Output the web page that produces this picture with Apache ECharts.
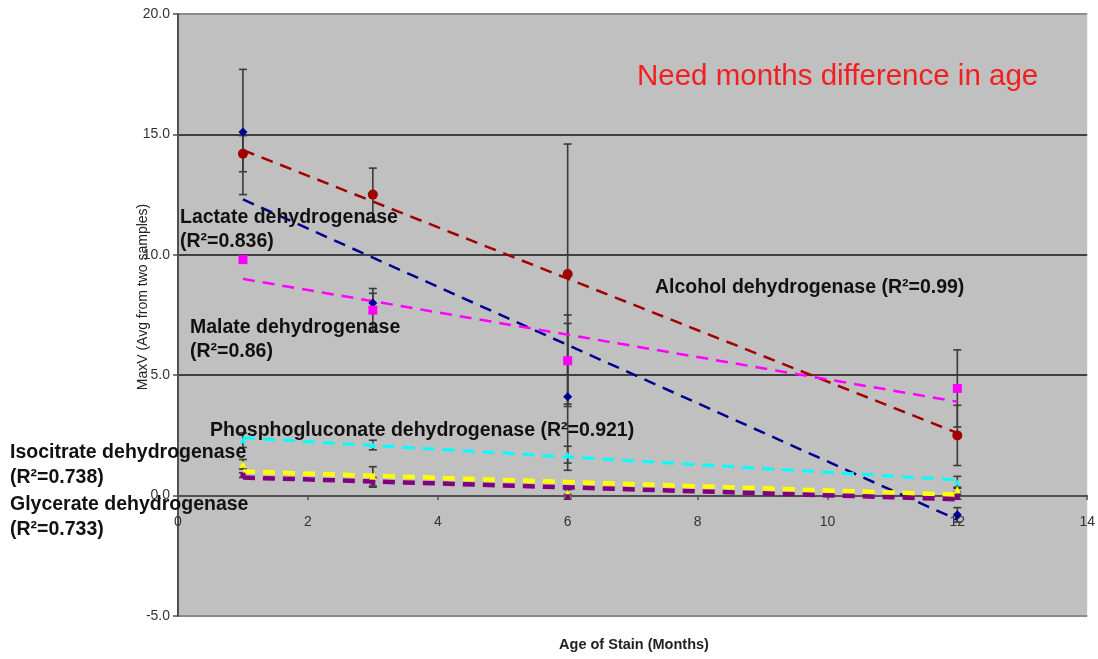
<!DOCTYPE html>
<html><head><meta charset="utf-8">
<script src="https://cdn.jsdelivr.net/npm/echarts@6/dist/echarts.min.js"></script>
<style>html,body{margin:0;padding:0;background:#fff}#c{width:1098px;height:659px}</style>
</head><body><div id="c"></div>
<script>
// Data
const months = [1, 3, 6, 12];
const alcohol = [14.2, 12.5, 9.2, 2.5];
const alcoholErr = [0.75, 1.1, 5.4, 1.25];
const lactate = [15.1, 8.0, 4.1, -0.8];
const lactateErr = [2.6, 0.4, 3.05, 0.3];
const malate = [9.8, 7.7, 5.6, 4.45];
const malateErr = [0.1, 0.9, 1.9, 1.6];
const phospho = [2.3, 2.1, 1.7, 0.55];
const phosphoErr = [0.3, 0.2, 0.35, 0.25];
const isocitrate = [1.3, 0.8, 0.1, 0.25];
const isocitrateErr = [0.2, 0.4, 0.15, 0.1];
const glycerate = [0.85, 0.55, -0.05, -0.05];
const glycerateErr = [0.1, 0.2, 0.1, 0.1];
// Trendline values at first and last month
const trendX = [1, 12];
const alcoholTrend = [14.35, 2.6];
const lactateTrend = [12.3, -1.0];
const malateTrend = [9.0, 3.9];
const phosphoTrend = [2.4, 0.65];
const isocitrateTrend = [1.0, 0.04];
const glycerateTrend = [0.75, -0.15];
const yTicks = [-5, 0, 5, 10, 15, 20];
const xTicks = [0, 2, 4, 6, 8, 10, 12, 14];

const C = {red:'#a00000', navy:'#000090', mag:'#ff00ff', cyan:'#00ffff', yel:'#ffff00', pur:'#800080'};

function errSeries(vals, errs) {
  return {
    type: 'custom', z: 3, silent: true,
    data: months.map((m, i) => [m, vals[i] - errs[i], vals[i] + errs[i]]),
    encode: {x: 0, y: [1, 2]},
    renderItem(params, api) {
      const x = api.value(0);
      const lo = api.coord([x, api.value(1)]);
      const hi = api.coord([x, api.value(2)]);
      const w = 4;
      const st = {stroke: '#3a3a3a', lineWidth: 1.6};
      return {type: 'group', children: [
        {type: 'line', shape: {x1: lo[0], y1: lo[1], x2: hi[0], y2: hi[1]}, style: st},
        {type: 'line', shape: {x1: lo[0] - w, y1: lo[1], x2: lo[0] + w, y2: lo[1]}, style: st},
        {type: 'line', shape: {x1: hi[0] - w, y1: hi[1], x2: hi[0] + w, y2: hi[1]}, style: st}
      ]};
    }
  };
}
function pts(vals, color, symbol, size) {
  return {type: 'scatter', z: 5, silent: true, symbol, symbolSize: size,
    itemStyle: {color, opacity: 1},
    data: months.map((m, i) => [m, vals[i]])};
}
function trend(vals, color, width) {
  return {type: 'line', z: 4, silent: true, symbol: 'none',
    lineStyle: {color, width, type: [12, 8]},
    data: trendX.map((m, i) => [m, vals[i]])};
}

const textFont = 'bold 19.5px "Liberation Sans", Arial, sans-serif';
function label(text, x, y) {
  return {type: 'text', z: 10, style: {text, x, y, font: textFont, fill: '#111', verticalAlign: 'middle'}};
}

const chart = echarts.init(document.getElementById('c'));
chart.setOption({
  animation: false,
  grid: {left: 178, top: 14, width: 912, height: 602, show: true, backgroundColor: '#c0c0c0', borderWidth: 0},
  xAxis: {
    type: 'value', min: xTicks[0], max: xTicks[xTicks.length - 1], interval: 2,
    offset: -120,
    axisLine: {show: true, onZero: false, lineStyle: {color: '#505050', width: 2}},
    axisTick: {show: true, length: 4, lineStyle: {color: '#505050', width: 1.5}},
    axisLabel: {margin: 19, color: '#333', fontSize: 14, fontFamily: '"Liberation Sans", Arial'},
    splitLine: {show: false}
  },
  yAxis: {
    type: 'value', min: yTicks[0], max: yTicks[yTicks.length - 1], interval: 5,
    axisLine: {show: true, onZero: false, lineStyle: {color: '#505050', width: 2}},
    axisTick: {show: true, length: 5, lineStyle: {color: '#505050', width: 1.5}},
    axisLabel: {margin: 8, color: '#333', fontSize: 14, fontFamily: '"Liberation Sans", Arial',
      formatter: v => v.toFixed(1)},
    splitLine: {show: true, lineStyle: {color: ['#8a8a8a', '#505050', '#404040', '#404040', '#404040', '#8a8a8a'], width: 2}}
  },
  series: [
    errSeries(alcohol, alcoholErr), errSeries(lactate, lactateErr), errSeries(malate, malateErr),
    errSeries(phospho, phosphoErr), errSeries(isocitrate, isocitrateErr), errSeries(glycerate, glycerateErr),
    trend(alcoholTrend, C.red, 2.5), trend(lactateTrend, C.navy, 2.5), trend(malateTrend, C.mag, 2.5),
    trend(phosphoTrend, C.cyan, 3), trend(isocitrateTrend, C.yel, 4.5), trend(glycerateTrend, C.pur, 4.5),
    pts(lactate, C.navy, 'diamond', 9), pts(malate, C.mag, 'rect', 9), pts(isocitrate, C.yel, 'triangle', 7),
    pts(phospho, C.cyan, 'triangle', 6), pts(glycerate, C.pur, 'rect', 5), pts(alcohol, C.red, 'circle', 10)
  ],
  graphic: [
    {type: 'text', z: 10, style: {text: 'Need months difference in age', x: 637, y: 77,
      font: '29.5px "Liberation Sans", Arial, sans-serif', fill: '#f02020', verticalAlign: 'middle'}},
    label('Lactate dehydrogenase', 180, 218), label('(R²=0.836)', 180, 242),
    label('Malate dehydrogenase', 190, 328), label('(R²=0.86)', 190, 352),
    label('Alcohol dehydrogenase (R²=0.99)', 655, 288),
    label('Phosphogluconate dehydrogenase (R²=0.921)', 210, 431),
    label('Isocitrate dehydrogenase', 10, 453), label('(R²=0.738)', 10, 478),
    label('Glycerate dehydrogenase', 10, 505), label('(R²=0.733)', 10, 530),
    {type: 'text', z: 10, style: {text: 'Age of Stain (Months)', x: 634, y: 645,
      font: 'bold 14.5px "Liberation Sans", Arial, sans-serif', fill: '#222', align: 'center', verticalAlign: 'middle'}},
    {type: 'text', z: 10, rotation: Math.PI / 2, x: 143, y: 297, style: {text: 'MaxV (Avg from two samples)', x: 0, y: 0,
      font: '14px "Liberation Sans", Arial, sans-serif', fill: '#222', align: 'center', verticalAlign: 'middle'}}
  ]
});
</script></body></html>
